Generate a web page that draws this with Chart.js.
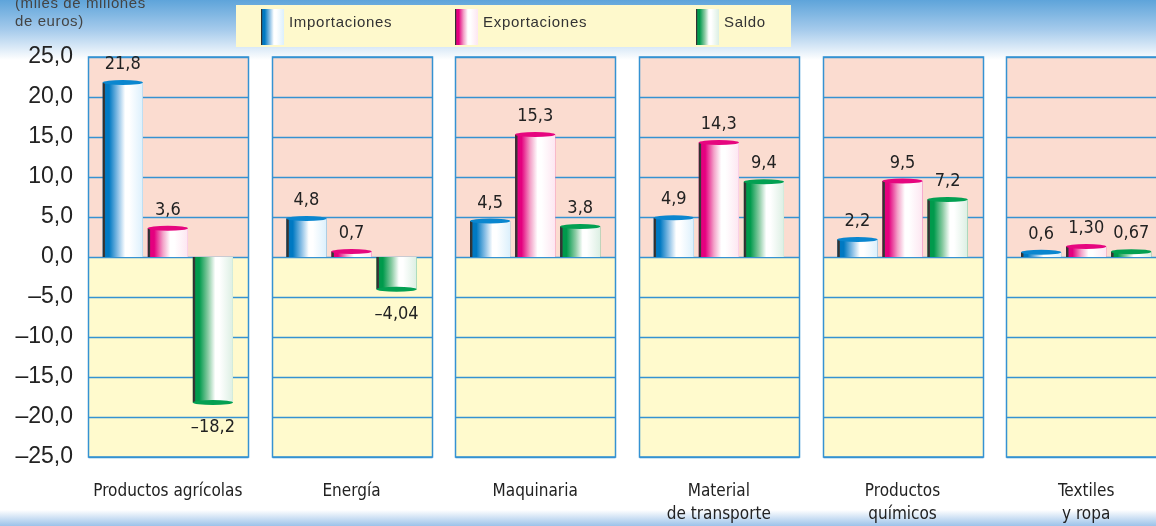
<!DOCTYPE html>
<html lang="es">
<head>
<meta charset="utf-8">
<title>Comercio exterior</title>
<script src="https://cdn.jsdelivr.net/npm/chart.js@4.4.1/dist/chart.umd.min.js"></script>
<style>
  html, body { margin: 0; padding: 0; overflow: hidden; background: #fff; }
  #wrap { width: 1178px; height: 526px; }
</style>
</head>
<body>
<div id="wrap"><canvas id="tradeChart" width="1178" height="526"></canvas></div>
<script>
const categories = [
  "Productos agrícolas",
  "Energía",
  "Maquinaria",
  ["Material", "de transporte"],
  ["Productos", "químicos"],
  ["Textiles", "y ropa"],
];
const importaciones = [21.8, 4.8, 4.5, 4.9, 2.2, 0.6];
const exportaciones = [3.6, 0.7, 15.3, 14.3, 9.5, 1.3];
const saldo = [-18.2, -4.04, 3.8, 9.4, 7.2, 0.67];
// decimals shown in the value labels
const importDecimals = [1, 1, 1, 1, 1, 1];
const exportDecimals = [1, 1, 1, 1, 1, 2];
const saldoDecimals = [1, 2, 1, 1, 1, 2];
const unitLabel = ["(miles de millones", "de euros)"];

const narrow = '"Liberation Sans Narrow", "DejaVu Sans Condensed", "Roboto Condensed", "Liberation Sans", sans-serif';

function formatNumber(v, d) {
  const txt = Math.abs(v).toFixed(d).replace(".", ",");
  return v < 0 ? "\u2013" + txt : txt;
}

function getShades(series) {
  switch (series) {
    case "Importaciones":
      return { strong: "#0079c2", mid: "#8cc0e6", light: "#dcf0fc", cap: "#0a86cf" };
    case "Exportaciones":
      return { strong: "#e4007f", mid: "#f3a3c9", light: "#fde6f1", cap: "#e6067f" };
    case "Saldo":
      return { strong: "#009a4c", mid: "#8acba3", light: "#dcefe3", cap: "#03a052" };
    default:
      return { strong: "#888", mid: "#bbb", light: "#eee", cap: "#888" };
  }
}

function barGradient(ctx, left, width, series) {
  const c = getShades(series);
  const g = ctx.createLinearGradient(left, 0, left + width, 0);
  g.addColorStop(0, "#2a2a2a");
  g.addColorStop(0.05, "#3a3a3a");
  g.addColorStop(0.07, c.strong);
  g.addColorStop(0.16, c.strong);
  g.addColorStop(0.38, c.mid);
  g.addColorStop(0.56, "#ffffff");
  g.addColorStop(0.66, "#ffffff");
  g.addColorStop(1, c.light);
  return g;
}

// background, panels and grid
const backdrop = {
  id: "backdrop",
  beforeDraw(chart) {
    const { ctx, width, height, scales: { x, y } } = chart;
    ctx.save();
    const top = ctx.createLinearGradient(0, 0, 0, 60);
    top.addColorStop(0, "#5ea4da");
    top.addColorStop(0.5, "#a6cbec");
    top.addColorStop(1, "#ffffff");
    ctx.fillStyle = top;
    ctx.fillRect(0, 0, width, 60);
    ctx.fillStyle = "#ffffff";
    ctx.fillRect(0, 60, width, height - 60);
    const bot = ctx.createLinearGradient(0, 510, 0, height);
    bot.addColorStop(0, "#ffffff");
    bot.addColorStop(1, "#9cc2e9");
    ctx.fillStyle = bot;
    ctx.fillRect(0, 510, width, height - 510);

    const yTop = y.getPixelForValue(y.max);
    const yZero = y.getPixelForValue(0);
    const yBot = y.getPixelForValue(y.min);
    categories.forEach((_, i) => {
      const cx = x.getPixelForValue(i);
      const l = Math.round(cx - 80) + 0.5;
      const w = 160;
      ctx.fillStyle = "#fbdcd0";
      ctx.fillRect(l, yTop, w, yZero - yTop);
      ctx.fillStyle = "#fffacd";
      ctx.fillRect(l, yZero, w, yBot - yZero);
      ctx.strokeStyle = "#3592d2";
      ctx.lineWidth = 1.5;
      for (let v = y.min; v <= y.max; v += 5) {
        const py = Math.round(y.getPixelForValue(v)) + 0.5;
        ctx.beginPath();
        ctx.moveTo(l, py);
        ctx.lineTo(l + w, py);
        ctx.stroke();
      }
      ctx.strokeRect(l, yTop, w, yBot - yTop);
    });
    ctx.restore();
  },
};

// cylinder bars, value labels, legend and unit label
const decorations = {
  id: "decorations",
  afterDatasetsDraw(chart) {
    const { ctx } = chart;
    ctx.save();
    chart.data.datasets.forEach((ds, di) => {
      const meta = chart.getDatasetMeta(di);
      const c = getShades(ds.label);
      meta.data.forEach((bar, i) => {
        const { x, y, base, width } = bar.getProps(["x", "y", "base", "width"], true);
        const left = x - width / 2;
        const top = Math.min(y, base);
        const h = Math.abs(base - y);
        ctx.fillStyle = barGradient(ctx, left, width, ds.label);
        ctx.fillRect(left, top, width, h);
        ctx.fillStyle = c.cap;
        ctx.beginPath();
        ctx.ellipse(x, y, width / 2, 2.5, 0, 0, Math.PI * 2);
        ctx.fill();

        const v = ds.data[i];
        ctx.fillStyle = "#222";
        ctx.font = "18px " + narrow;
        ctx.textAlign = "center";
        ctx.textBaseline = "middle";
        const ly = v >= 0 ? y - 18 : y + 25;
        ctx.fillText(formatNumber(v, ds.decimals[i]), x, ly);
      });
    });

    // legend
    ctx.fillStyle = "#fef9cc";
    ctx.fillRect(236, 5, 555, 42);
    const legendX = [261, 455, 696];
    chart.data.datasets.forEach((ds, di) => {
      const sx = legendX[di];
      ctx.fillStyle = barGradient(ctx, sx, 23, ds.label);
      ctx.fillRect(sx, 9, 23, 36);
      ctx.fillStyle = "#333";
      ctx.font = '15px "Liberation Sans", Arial, sans-serif';
      ctx.letterSpacing = "0.7px";
      ctx.textAlign = "left";
      ctx.textBaseline = "middle";
      ctx.fillText(ds.label, sx + 28, 23);
    });

    // unit label
    ctx.fillStyle = "#444";
    ctx.font = '15px "Liberation Sans", Arial, sans-serif';
    ctx.letterSpacing = "0.6px";
    ctx.textAlign = "left";
    ctx.textBaseline = "middle";
    ctx.fillText(unitLabel[0], 15, 4);
    ctx.fillText(unitLabel[1], 15, 22);
    ctx.restore();
  },
};

const data = {
  labels: categories,
  datasets: [
    { label: "Importaciones", data: importaciones, decimals: importDecimals, backgroundColor: "#0079c2" },
    { label: "Exportaciones", data: exportaciones, decimals: exportDecimals, backgroundColor: "#e4007f" },
    { label: "Saldo", data: saldo, decimals: saldoDecimals, backgroundColor: "#009a4c" },
  ],
};

const config = {
  type: "bar",
  data: data,
  options: {
    responsive: false,
    animation: false,
    categoryPercentage: 0.736,
    barPercentage: 0.89,
    layout: { padding: { top: 57, left: 0, right: 0, bottom: 0 } },
    plugins: {
      legend: { display: false },
      tooltip: { enabled: false },
    },
    scales: {
      y: {
        min: -25,
        max: 25,
        grid: { display: false, drawTicks: false },
        border: { display: false },
        afterFit: (s) => { s.width = 76; },
        ticks: {
          stepSize: 5,
          padding: 3,
          color: "#222",
          font: { family: '"Liberation Sans", Arial, sans-serif', size: 23 },
          callback: (v) => formatNumber(v, 1),
        },
      },
      x: {
        grid: { display: false, drawTicks: false },
        border: { display: false },
        afterFit: (s) => { s.height = 69; },
        ticks: {
          padding: 24,
          autoSkip: false,
          maxRotation: 0,
          color: "#222",
          font: { family: narrow, size: 17, lineHeight: 1.3 },
        },
      },
    },
  },
  plugins: [backdrop, decorations],
};

new Chart(document.getElementById("tradeChart").getContext("2d"), config);
</script>
</body>
</html>
